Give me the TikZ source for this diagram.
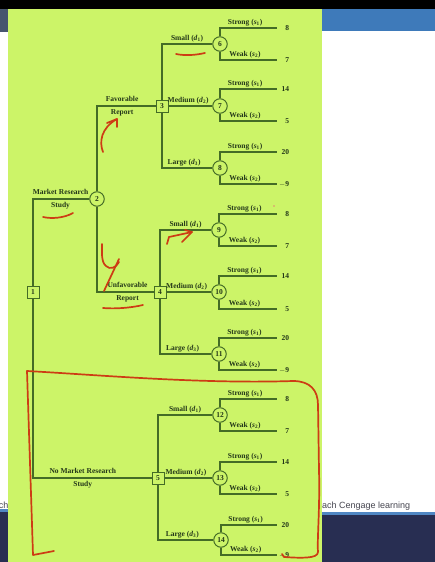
\documentclass[tikz,border=0pt]{standalone}
\usepackage{fontspec}
\setmainfont{Liberation Serif}
\newfontfamily\uisans{Liberation Sans}
\definecolor{bgl}{RGB}{204,244,104}
\definecolor{lg}{RGB}{68,108,38}
\definecolor{tx}{RGB}{35,55,25}
\definecolor{annred}{RGB}{205,60,20}
\definecolor{slate}{RGB}{70,85,110}
\definecolor{topblue}{RGB}{62,122,186}
\definecolor{navy}{RGB}{40,46,82}
\definecolor{lineblue}{RGB}{80,135,195}
\definecolor{captxt}{RGB}{70,70,80}
\begin{document}
\begin{tikzpicture}[x=1pt,y=-1pt,
  dec/.style={draw=lg, fill=bgl, line width=1pt, minimum size=12pt, inner sep=0pt, text=tx, font=\fontsize{7.5}{8}\selectfont\bfseries},
  chn/.style={circle, draw=lg, fill=bgl, line width=1pt, minimum size=14.5pt, inner sep=0pt, text=tx, font=\fontsize{7.5}{8}\selectfont\bfseries},
  br/.style={draw=lg, line width=1.1pt},
  lbl/.style={text=tx, inner sep=1pt, font=\fontsize{7.5}{8}\selectfont\bfseries},
  val/.style={anchor=west, text=tx, inner xsep=2pt, inner ysep=1pt, text width=10pt, align=right, font=\fontsize{7.5}{8}\selectfont\bfseries},
  two/.style={align=center, text=tx, inner sep=0pt, font=\fontsize{7.5}{13.5}\selectfont\bfseries},
  ann/.style={draw=annred, line width=1.7pt, line cap=round, line join=round}]
\useasboundingbox (0,0) rectangle (435,562);
% screen background
\fill[white] (0,0) rectangle (435,562);
\fill[black] (0,0) rectangle (435,9);
\fill[slate] (0,9) rectangle (8,32);
\fill[topblue] (322,9) rectangle (435,31);
\fill[lineblue] (322,512) rectangle (435,515);
\fill[navy] (322,515) rectangle (435,562);
\fill[lineblue] (0,509) rectangle (8,512);
\fill[navy] (0,512) rectangle (8,562);
\node[anchor=west, inner sep=0pt, text=captxt, font=\uisans\fontsize{9}{10}\selectfont] (cap) at (322,506) {ach Cengage learning};
\node[anchor=east, inner sep=0pt, text=captxt, font=\uisans\fontsize{9}{10}\selectfont] (capl) at (8.5,505) {ch};
\fill[bgl] (8,9) rectangle (322,562);

% decision / chance nodes of the trunk
\node[dec] (n1) at (33,292) {1};
\node[chn] (n2) at (97,199) {2};
\node[dec] (n3) at (162,106) {3};
\node[dec] (n4) at (160,292) {4};
\node[dec] (n5) at (158,478) {5};

% chance nodes with outcomes
\foreach \n/\x/\y/\ys/\yw/\vs/\vw in {6/220/44/28/60/8/7, 7/220/106/89/121/14/5, 8/220/168/152/184/20/{$-$9},
  9/219/230/214/246/8/7, 10/219/292/276/309/14/5, 11/219/354/338/370/20/{$-$9},
  12/220/415/399/431/8/7, 13/220/478/462/494/14/5, 14/221/540/525/555/20/{$-$9}}{
  \node[chn] (c\n) at (\x,\y) {\n};
  \node[val] (vs\n) at (277,\ys) {\vs};
  \node[val] (vw\n) at (277,\yw) {\vw};
  \draw[br] (c\n.north) |- (vs\n.west) node[lbl, pos=0.72, above] {Strong (\textit{s}\textsubscript{1})};
  \draw[br] (c\n.south) |- (vw\n.west) node[lbl, pos=0.72, above] {Weak (\textit{s}\textsubscript{2})};
}

% trunk connectors
\draw[br] (n1.north) |- (n2.west) node[two, pos=0.745] {Market Research\\Study};
\draw[br] (n1.south) |- (n5.west) node[two, pos=0.71] {No Market Research\\Study};
\draw[br] (n2.north) |- (n3.west) node[two, pos=0.715] {Favorable\\Report};
\draw[br] (n2.south) |- (n4.west) node[two, pos=0.77] {Unfavorable\\Report};

% decision branches
\foreach \d/\a/\b/\c in {n3/6/7/8, n4/9/10/11, n5/12/13/14}{
  \draw[br] (\d.north) |- (c\a.west) node[lbl, above, pos=0.75] {Small (\textit{d}\textsubscript{1})};
  \draw[br] (\d.east) -- (c\b.west) node[lbl, above, pos=0.45] {Medium (\textit{d}\textsubscript{2})};
  \draw[br] (\d.south) |- (c\c.west) node[lbl, above, pos=0.72] {Large (\textit{d}\textsubscript{3})};
}

% red hand annotations
\draw[ann] (176,54) .. controls (186,56) and (196,55) .. (205,53);
\draw[ann] (103,152) .. controls (99,142) and (101,128) .. (117,119);
\draw[ann] (107,123) -- (117,119) -- (117,127);
\draw[ann] (43,217) .. controls (52,219) and (64,218) .. (73,213);
\draw[ann] (102,244) .. controls (102,252) and (101,262) .. (106,266) .. controls (110,270) and (116,268) .. (119,262);
\draw[ann] (119,259) -- (104,291);
\draw[ann] (103,308) .. controls (115,309) and (130,308) .. (143,305);
\draw[ann] (167,244) -- (169,237) -- (192,232) -- (182,242);
\draw[ann] (185,230) -- (192,232);
\fill[annred!60] (274,206) circle (0.9);
\draw[ann] (27,371) .. controls (100,375) and (200,384) .. (293,381) .. controls (310,381) and (318,390) .. (318,405)
  -- (319,470) .. controls (320,510) and (317,540) .. (318,552) .. controls (318,559) and (300,558) .. (284,557) -- (282,554);
\draw[ann] (27,371) -- (33,555) -- (54,551);
\end{tikzpicture}
\end{document}
